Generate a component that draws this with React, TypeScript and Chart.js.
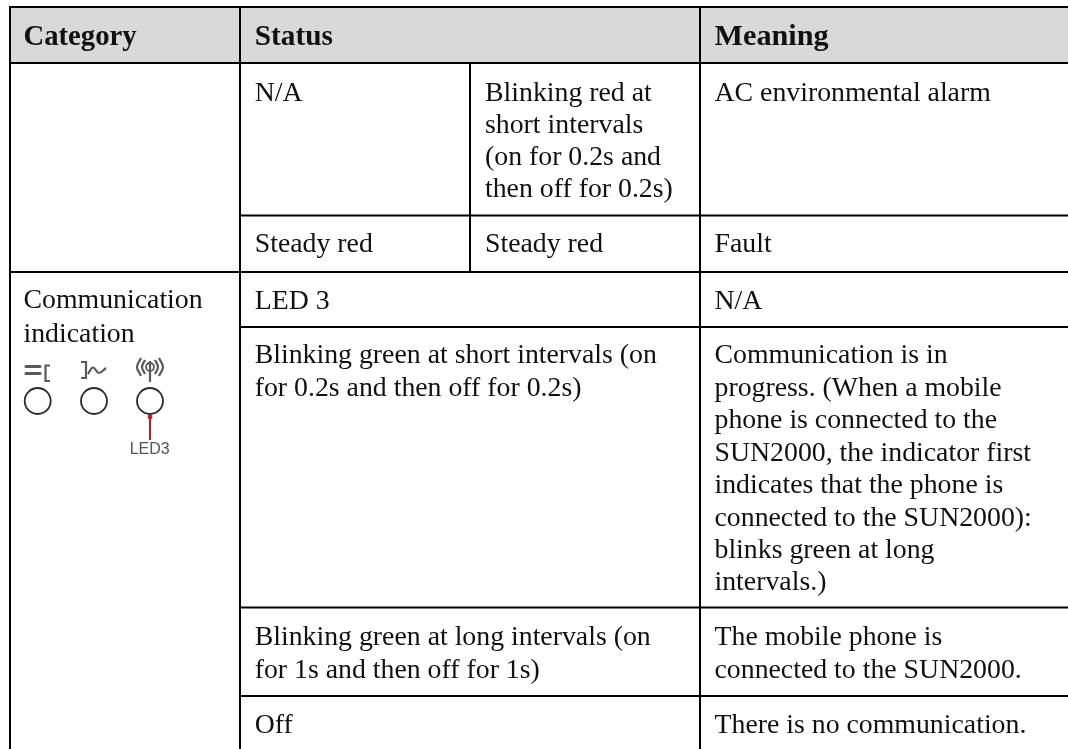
import React, { useEffect, useRef } from "react";
import { Chart, registerables } from "chart.js";

Chart.register(...registerables);

// ---- table content ----
const headerCategory = "Category";
const headerStatus = "Status";
const headerMeaning = "Meaning";
const naStatus = ["N/A"];
const acStatus = ["Blinking red at", "short intervals", "(on for 0.2s and", "then off for 0.2s)"];
const acMeaning = ["AC environmental alarm"];
const faultLeft = ["Steady red"];
const faultRight = ["Steady red"];
const faultMeaning = ["Fault"];
const commCategory = ["Communication", "indication"];
const led3Status = ["LED 3"];
const led3Meaning = ["N/A"];
const shortStatus = ["Blinking green at short intervals (on", "for 0.2s and then off for 0.2s)"];
const shortMeaning = [
  "Communication is in",
  "progress. (When a mobile",
  "phone is connected to the",
  "SUN2000, the indicator first",
  "indicates that the phone is",
  "connected to the SUN2000):",
  "blinks green at long",
  "intervals.)",
];
const longStatus = ["Blinking green at long intervals (on", "for 1s and then off for 1s)"];
const longMeaning = ["The mobile phone is", "connected to the SUN2000."];
const offStatus = ["Off"];
const offMeaning = ["There is no communication."];
const ledCaption = "LED3";

// ---- layout on the hidden scales (one unit = one pixel) ----
const W = 1068;
const H = 749;
const colLeft = 10;
const col1 = 240;
const col2 = 470;
const col3 = 700;
const rowTop = 7;
const rowHead = 63;
const row1 = 215.5;
const row2 = 272;
const row3 = 327;
const row4 = 607.5;
const row5 = 696;
const textX1 = 23.5;
const textX2 = 254.7;
const textX3 = 485;
const textX4 = 714.5;
const LH = 32.4;

type P = { x: number; y: number };
const seg = (x1: number, y1: number, x2: number, y2: number): P[] => [
  { x: x1, y: y1 },
  { x: x2, y: y2 },
];
const rules = [
  seg(colLeft - 1, rowTop, W, rowTop),
  seg(colLeft - 1, rowHead, W, rowHead),
  seg(col1, row1, W, row1),
  seg(colLeft, row2, W, row2),
  seg(col1, row3, W, row3),
  seg(col1, row4, W, row4),
  seg(col1, row5, W, row5),
  seg(colLeft, rowTop, colLeft, H),
  seg(col1, rowTop, col1, H),
  seg(col2, rowHead, col2, row2),
  seg(col3, rowTop, col3, H),
];
const ledCentres: P[] = [37.7, 94, 150].map((x) => ({ x, y: 401 }));

// small icons above the LEDs, as polylines
const pts = (...v: number[]): P[] => {
  const out: P[] = [];
  for (let i = 0; i < v.length; i += 2) out.push({ x: v[i], y: v[i + 1] });
  return out;
};
const iconStraight: P[][] = [
  pts(26, 366.5, 40, 366.5),
  pts(26, 373.5, 40, 373.5),
  pts(50, 365.5, 45.5, 365.5, 45.5, 381, 50, 381),
  pts(81, 362, 86, 362, 86, 378, 81, 378),
  pts(150, 361, 150, 382),
];
const iconCurved: P[][] = [
  pts(88, 374, 93, 367.5, 99, 373, 106, 368),
  pts(141, 358, 137, 367, 141, 376),
  pts(145, 360, 142, 367, 145, 374),
  pts(155, 360, 158, 367, 155, 374),
  pts(159, 358, 163, 367, 159, 376),
];

const BODY = '27.8px "Liberation Serif"';
const INK = "#111111";

type Block = { lines: string[]; x: number; y: number; font?: string; lh?: number };
const blocks: Block[] = [
  { lines: [headerCategory], x: textX1, y: 45, font: 'bold 28.7px "Liberation Serif"' },
  { lines: [headerStatus], x: textX2, y: 45, font: 'bold 29.3px "Liberation Serif"' },
  { lines: [headerMeaning], x: textX4, y: 45, font: 'bold 30.2px "Liberation Serif"' },
  { lines: naStatus, x: textX2, y: 100.7 },
  { lines: acStatus, x: textX3, y: 100.7, lh: 32.1 },
  { lines: acMeaning, x: textX4, y: 100.7 },
  { lines: faultLeft, x: textX2, y: 252.3 },
  { lines: faultRight, x: textX3, y: 252.3 },
  { lines: faultMeaning, x: textX4, y: 252.3 },
  { lines: commCategory, x: textX1, y: 308.3, lh: 33.4 },
  { lines: led3Status, x: textX2, y: 309.3 },
  { lines: led3Meaning, x: textX4, y: 309.3 },
  { lines: shortStatus, x: textX2, y: 363.3 },
  { lines: shortMeaning, x: textX4, y: 363.3, lh: 32.45 },
  { lines: longStatus, x: textX2, y: 645, lh: 32.7 },
  { lines: longMeaning, x: textX4, y: 645, lh: 32.7 },
  { lines: offStatus, x: textX2, y: 732.7 },
  { lines: offMeaning, x: textX4, y: 732.7 },
];

const tableText = {
  id: "tableText",
  afterDatasetsDraw(chart: any) {
    const { ctx, scales } = chart;
    ctx.save();
    ctx.textAlign = "left";
    ctx.textBaseline = "alphabetic";
    for (const b of blocks) {
      ctx.font = b.font ?? BODY;
      ctx.fillStyle = INK;
      b.lines.forEach((t, i) => {
        ctx.fillText(t, scales.x.getPixelForValue(b.x), scales.y.getPixelForValue(b.y + i * (b.lh ?? LH)));
      });
    }
    ctx.textAlign = "center";
    ctx.font = '16px "Liberation Sans"';
    ctx.fillStyle = "#555555";
    ctx.fillText(ledCaption, scales.x.getPixelForValue(149.7), scales.y.getPixelForValue(454));
    ctx.restore();
  },
};

export default function App() {
  const ref = useRef<HTMLCanvasElement>(null);
  useEffect(() => {
    document.body.style.margin = "0";
    document.body.style.background = "#ffffff";
    const chart = new Chart(ref.current as HTMLCanvasElement, {
      type: "line",
      data: {
        datasets: [
          {
            label: "Header band",
            order: 100,
            data: seg(colLeft, rowTop, W, rowTop),
            borderWidth: 0,
            pointRadius: 0,
            backgroundColor: "#d9d9d9",
            fill: { value: rowHead },
          },
          ...rules.map((r, i) => ({
            label: "Rule " + i,
            data: r,
            borderColor: "#000000",
            borderWidth: 2,
            pointRadius: 0,
            fill: false,
          })),
          ...iconStraight.map((r, i) => ({
            label: "Icon line " + i,
            data: r,
            borderColor: "#5a5a5a",
            borderWidth: i < 2 ? 3 : 2.2,
            borderCapStyle: i < 2 ? "round" : "butt",
            pointRadius: 0,
            fill: false,
          })),
          ...iconCurved.map((r, i) => ({
            label: "Icon curve " + i,
            data: r,
            borderColor: "#5a5a5a",
            borderWidth: 2.2,
            tension: 0.4,
            pointRadius: 0,
            fill: false,
          })),
          {
            label: "Antenna ring",
            data: [{ x: 150, y: 367 }],
            showLine: false,
            pointRadius: 4,
            pointBackgroundColor: "rgba(255,255,255,0)",
            pointBorderColor: "#5a5a5a",
            pointBorderWidth: 1.8,
          },
          {
            label: "LED lead",
            data: seg(150, 417, 150, 440),
            borderColor: "#b5202c",
            borderWidth: 2,
            pointRadius: 0,
            fill: false,
          },
          {
            label: "LED lead tip",
            data: [{ x: 150, y: 417 }],
            pointRadius: 2.4,
            pointBackgroundColor: "#b5202c",
            pointBorderWidth: 0,
            showLine: false,
          },
          {
            label: "LEDs",
            data: ledCentres,
            showLine: false,
            pointStyle: "circle",
            pointRadius: 13,
            pointBackgroundColor: "rgba(255,255,255,0)",
            pointBorderColor: "#2a2a2a",
            pointBorderWidth: 1.8,
          },
        ],
      },
      options: {
        animation: false,
        responsive: false,
        layout: { padding: 0, autoPadding: false },
        events: [],
        scales: {
          x: { type: "linear", min: 0, max: W, display: false },
          y: { type: "linear", min: 0, max: H, reverse: true, display: false },
        },
        plugins: { legend: { display: false }, tooltip: { enabled: false }, title: { display: false } },
      },
      plugins: [tableText],
    } as any);
    return () => chart.destroy();
  }, []);
  return <canvas ref={ref} width={W} height={H} style={{ display: "block", background: "#ffffff" }} />;
}
